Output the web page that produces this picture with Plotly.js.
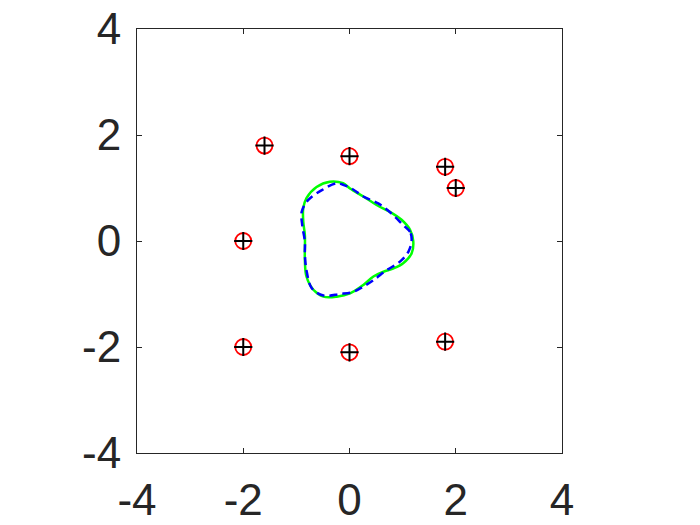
<!DOCTYPE html>
<html>
<head>
<meta charset="utf-8">
<script src="https://cdn.plot.ly/plotly-3.0.1.min.js"></script>
<style>html,body{margin:0;padding:0;background:#fff;}</style>
</head>
<body>
<div id="chart" style="width:700px;height:525px;"></div>
<script>
// Scatter points (red circles with black crosses)
const pointsX = [-1.6, 0, 1.8, 2, -2, -2, 0, 1.8];
const pointsY = [1.8, 1.6, 1.4, 1, 0, -2, -2.1, -1.9];

// Green solid closed curve
const greenX = [1.20, 1.14, 0.98, 0.76, 0.51, 0.26, 0.01, -0.12, -0.37, -0.62, -0.81, -0.87, -0.87, -0.84, -0.84, -0.81, -0.68, -0.49, -0.24, 0.01, 0.26, 0.45, 0.64, 0.82, 1.01, 1.17, 1.20];
const greenY = [0.00, 0.21, 0.40, 0.55, 0.68, 0.84, 0.99, 1.09, 1.12, 1.02, 0.81, 0.62, 0.36, 0.11, -0.36, -0.67, -0.92, -1.05, -1.05, -0.99, -0.83, -0.67, -0.58, -0.52, -0.42, -0.23, 0.00];

// Blue dashed closed curve
const blueX = [1.17, 1.14, 1.01, 0.79, 0.54, 0.26, 0.04, -0.12, -0.24, -0.52, -0.78, -0.90, -0.89, -0.84, -0.84, -0.81, -0.71, -0.49, -0.18, 0.07, 0.26, 0.45, 0.70, 0.95, 1.11, 1.17];
const blueY = [0.02, 0.17, 0.30, 0.52, 0.71, 0.84, 0.99, 1.06, 1.09, 0.96, 0.77, 0.55, 0.30, -0.01, -0.26, -0.55, -0.89, -1.03, -1.00, -0.96, -0.86, -0.74, -0.55, -0.39, -0.20, 0.02];

const tickVals = [-4, -2, 0, 2, 4];
const tickText = ['-4', '-2', '0', '2', '4'];

const traces = [
  {x: greenX, y: greenY, mode: 'lines', type: 'scatter',
   line: {color: '#00ff00', width: 2.5, shape: 'spline', smoothing: 1}, hoverinfo: 'skip'},
  {x: blueX, y: blueY, mode: 'lines', type: 'scatter',
   line: {color: '#0000ff', width: 2.5, dash: '8px,5px', shape: 'spline', smoothing: 1}, hoverinfo: 'skip'},
  {x: pointsX, y: pointsY, mode: 'markers', type: 'scatter',
   marker: {symbol: 'circle-open', size: 16, color: '#ff0000', line: {width: 1.8, color: '#ff0000'}}},
  {x: pointsX, y: pointsY, mode: 'markers', type: 'scatter',
   marker: {symbol: 'cross-thin-open', size: 13, color: '#000000', line: {width: 2, color: '#000000'}}}
];

const axisCommon = {
  range: [-4, 4], tickvals: tickVals, ticktext: tickText,
  showgrid: false, zeroline: false, showline: true, mirror: 'ticks',
  linecolor: '#262626', linewidth: 1, ticks: 'inside', ticklen: 5, tickwidth: 1, tickcolor: '#262626',
  tickfont: {family: 'Liberation Sans, Arial, sans-serif', size: 44, color: '#262626'}
};

const layout = {
  width: 700, height: 525,
  margin: {l: 137, r: 138, t: 29, b: 72},
  showlegend: false,
  paper_bgcolor: '#ffffff', plot_bgcolor: '#ffffff',
  xaxis: Object.assign({}, axisCommon, {ticklabelstandoff: 8}),
  yaxis: Object.assign({}, axisCommon, {ticklabelstandoff: 6})
};

Plotly.newPlot('chart', traces, layout, {staticPlot: true, displayModeBar: false});
</script>
</body>
</html>
